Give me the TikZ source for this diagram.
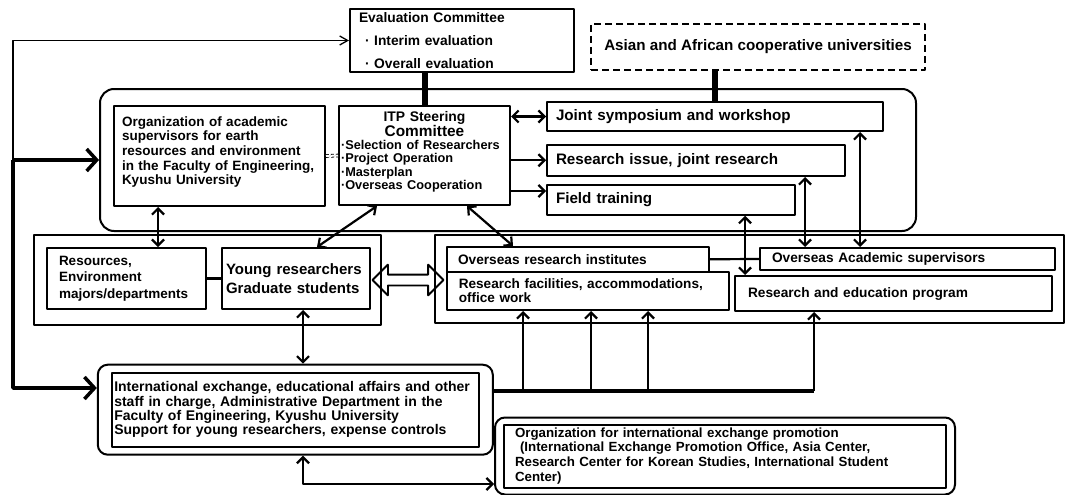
\documentclass[tikz,border=0pt]{standalone}
\usepackage{fontspec}
\setmainfont{Liberation Sans}
\usetikzlibrary{arrows.meta,shapes.arrows,fit}

\begin{document}
\begin{tikzpicture}[x=1pt, y=-1pt, line join=round, >={Straight Barb[length=6pt,width=12pt]},
	box/.style={draw, line width=2pt, inner sep=0pt, align=left, font=\bfseries\fontsize{13.7}{14.5}\selectfont},
	bigtext/.style={font=\bfseries\fontsize{15.2}{17}\selectfont},
	roundframe/.style={draw, line width=2pt, rounded corners=10pt},
	link/.style={line width=2.2pt},
	heavy/.style={line width=6pt},
	bus/.style={line width=3.5pt},
	bigtip/.style={-{Straight Barb[length=10pt,width=22pt]}},
	twoway/.style={double arrow, draw, line width=1.8pt, minimum height=71pt, minimum width=29pt, inner sep=4.5pt, double arrow head extend=10pt, double arrow head indent=0pt}]
	\useasboundingbox (0,0) rectangle (1065,495);
	% top row
	\node[box, minimum width=224pt, minimum height=63pt, text width=206pt, font=\bfseries\fontsize{13.8}{23}\selectfont] (eval) at (462,40.5) {Evaluation Committee\\\hspace*{6pt}· Interim evaluation\\\hspace*{6pt}· Overall evaluation};
	\node[box, bigtext, dash pattern=on 7pt off 4pt, align=center, minimum width=334pt, minimum height=46pt] (asian) at (758,47) {Asian and African cooperative universities};
	% steering group
	\node[roundframe, rounded corners=14pt, minimum width=816pt, minimum height=142pt] (core) at (508,160) {};
	\node[box, minimum width=211pt, minimum height=100pt, text width=195pt, font=\bfseries\fontsize{13.5}{14.6}\selectfont] (org) at (219.5,156) {Organization of academic\\supervisors for earth\\resources and environment\\in the Faculty of Engineering,\\Kyushu University\\[-4pt]\mbox{}};
	\node[box, minimum width=171pt, minimum height=99pt, text width=167pt] (itp) at (424.5,155.5) {{\centering\fontsize{13.9}{14}\selectfont ITP Steering\\\fontsize{15.4}{15}\selectfont Committee\par}\fontsize{12.75}{13.3}\selectfont ·Selection of Researchers\\·Project Operation\\·Masterplan\\·Overseas Cooperation\\[-4pt]\mbox{}};
	\node[box, bigtext, minimum width=336pt, minimum height=29pt, text width=318pt] (joint) at (715,116.5) {Joint symposium and workshop};
	\node[box, bigtext, minimum width=298pt, minimum height=31.5pt, text width=280pt] (issue) at (696,160.25) {Research issue, joint research};
	\node[box, bigtext, minimum width=248pt, minimum height=29.5pt, text width=230pt] (field) at (671,200) {Field training};
	% middle row
	\node[box, minimum width=346.5pt, minimum height=90.5pt] (leftgrp) at (207.25,279.75) {};
	\node[box, minimum width=159pt, minimum height=61pt, text width=135pt, font=\bfseries\fontsize{13.5}{16.4}\selectfont] (res) at (126.5,278.5) {Resources,\\Environment\\majors/departments};
	\node[box, minimum width=148pt, minimum height=61pt, text width=140pt, font=\bfseries\fontsize{15}{19}\selectfont] (young) at (296,278.5) {Young researchers\\Graduate students};
	\node[box, minimum width=629pt, minimum height=88.5pt] (rightgrp) at (749.5,278.75) {};
	\node[box, minimum width=262pt, minimum height=24.5pt, text width=240pt] (inst) at (578,259.25) {Overseas research institutes};
	\node[box, minimum width=281.5pt, minimum height=38.5pt, text width=258pt, font=\bfseries\fontsize{13.6}{14.5}\selectfont] (facil) at (587.75,290.75) {Research facilities, accommodations,\\office work};
	\node[box, minimum width=295pt, minimum height=22pt, text width=271pt] (acad) at (907.5,259) {Overseas Academic supervisors};
	\node[box, minimum width=317pt, minimum height=35pt, text width=291pt] (rep) at (893.5,293.5) {Research and education program};
	\node[twoway] (swapper) at (408,280) {};
	% bottom row
	\node[box, minimum width=367pt, minimum height=74pt, text width=362pt, font=\bfseries\fontsize{14}{14.2}\selectfont] (intl) at (295.3,409.7) {International exchange, educational affairs and other\\staff in charge, Administrative Department in the\\Faculty of Engineering, Kyushu University\\Support for young researchers, expense controls};
	\node[roundframe, fit=(intl), inner xsep=13pt, inner ysep=7pt] (intlframe) {};
	\node[box, minimum width=442pt, minimum height=63pt, text width=420pt, font=\bfseries\fontsize{13.3}{14.9}\selectfont] (promo) at (725,456) {Organization for international exchange promotion\\\hspace*{5pt}(International Exchange Promotion Office, Asia Center,\\Research Center for Korean Studies, International Student\\Center)};
	\node[roundframe, fit=(promo), inner xsep=8pt, inner ysep=6pt] (promoframe) {};
	% attach points
	\coordinate (lj) at (13,160);
	\coordinate (ylow) at (0,388);
	\coordinate (yfield) at (0,191);
	\coordinate (ypromo) at (0,484);
	\coordinate (tres) at (158,0);
	\coordinate (titpa) at (377,0);
	\coordinate (tyoung) at (317,0);
	\coordinate (titpb) at (467,0);
	\coordinate (tinst) at (513,0);
	\coordinate (tdown) at (303,0);
	\coordinate (tfield) at (745,0);
	\coordinate (tissue) at (805,0);
	\coordinate (tjoint) at (860,0);
	\coordinate (busend) at (814,391);
	% connectors
	\draw[line width=1.3pt, -{Straight Barb[length=8pt,width=9pt]}] (lj) |- (eval.west);
	\draw[bus, bigtip] (lj) -- (core.west);
	\draw[bus, bigtip] (lj) |- (intlframe.west |- ylow);
	\draw[heavy] (itp.north) -- (itp.north |- eval.south);
	\draw[heavy] (joint.north) -- (joint.north |- asian.south);
	\draw[densely dashed, line width=0.8pt, double distance=2pt] (org.east) -- (itp.west);
	\draw[link, <->] (itp.east |- joint.west) -- (joint.west);
	\draw[link, ->] (itp.east |- issue.west) -- (issue.west);
	\draw[link, ->] (itp.east |- yfield) -- (field.west |- yfield);
	\draw[link, <->] (org.south -| tres) -- (res.north -| tres);
	\draw[link, <->] (itp.south -| titpa) -- (young.north -| tyoung);
	\draw[link, <->] (itp.south -| titpb) -- (inst.north -| tinst);
	\draw[link] (res.east) -- (young.west);
	\draw[link] (inst.east) -- (acad.west);
	\draw[link, <->] (field.south -| tfield) -- (rep.north -| tfield);
	\draw[link, <->] (issue.south -| tissue) -- (acad.north -| tissue);
	\draw[link, <->] (joint.south -| tjoint) -- (acad.north -| tjoint);
	\draw[link, <->] (young.south -| tdown) -- (intlframe.north -| tdown);
	\draw[link, <->] (intlframe.south -| tdown) |- (promoframe.west |- ypromo);
	\draw[bus] (intlframe.east |- busend) -- (busend);
	\draw[link, ->] (busend) -- (rep.south -| busend);
	\foreach \xx in {523,591,648} {
		\coordinate (up) at (\xx,391);
		\draw[link, ->] (up) -- (facil.south -| up);
	}
\end{tikzpicture}
\end{document}
